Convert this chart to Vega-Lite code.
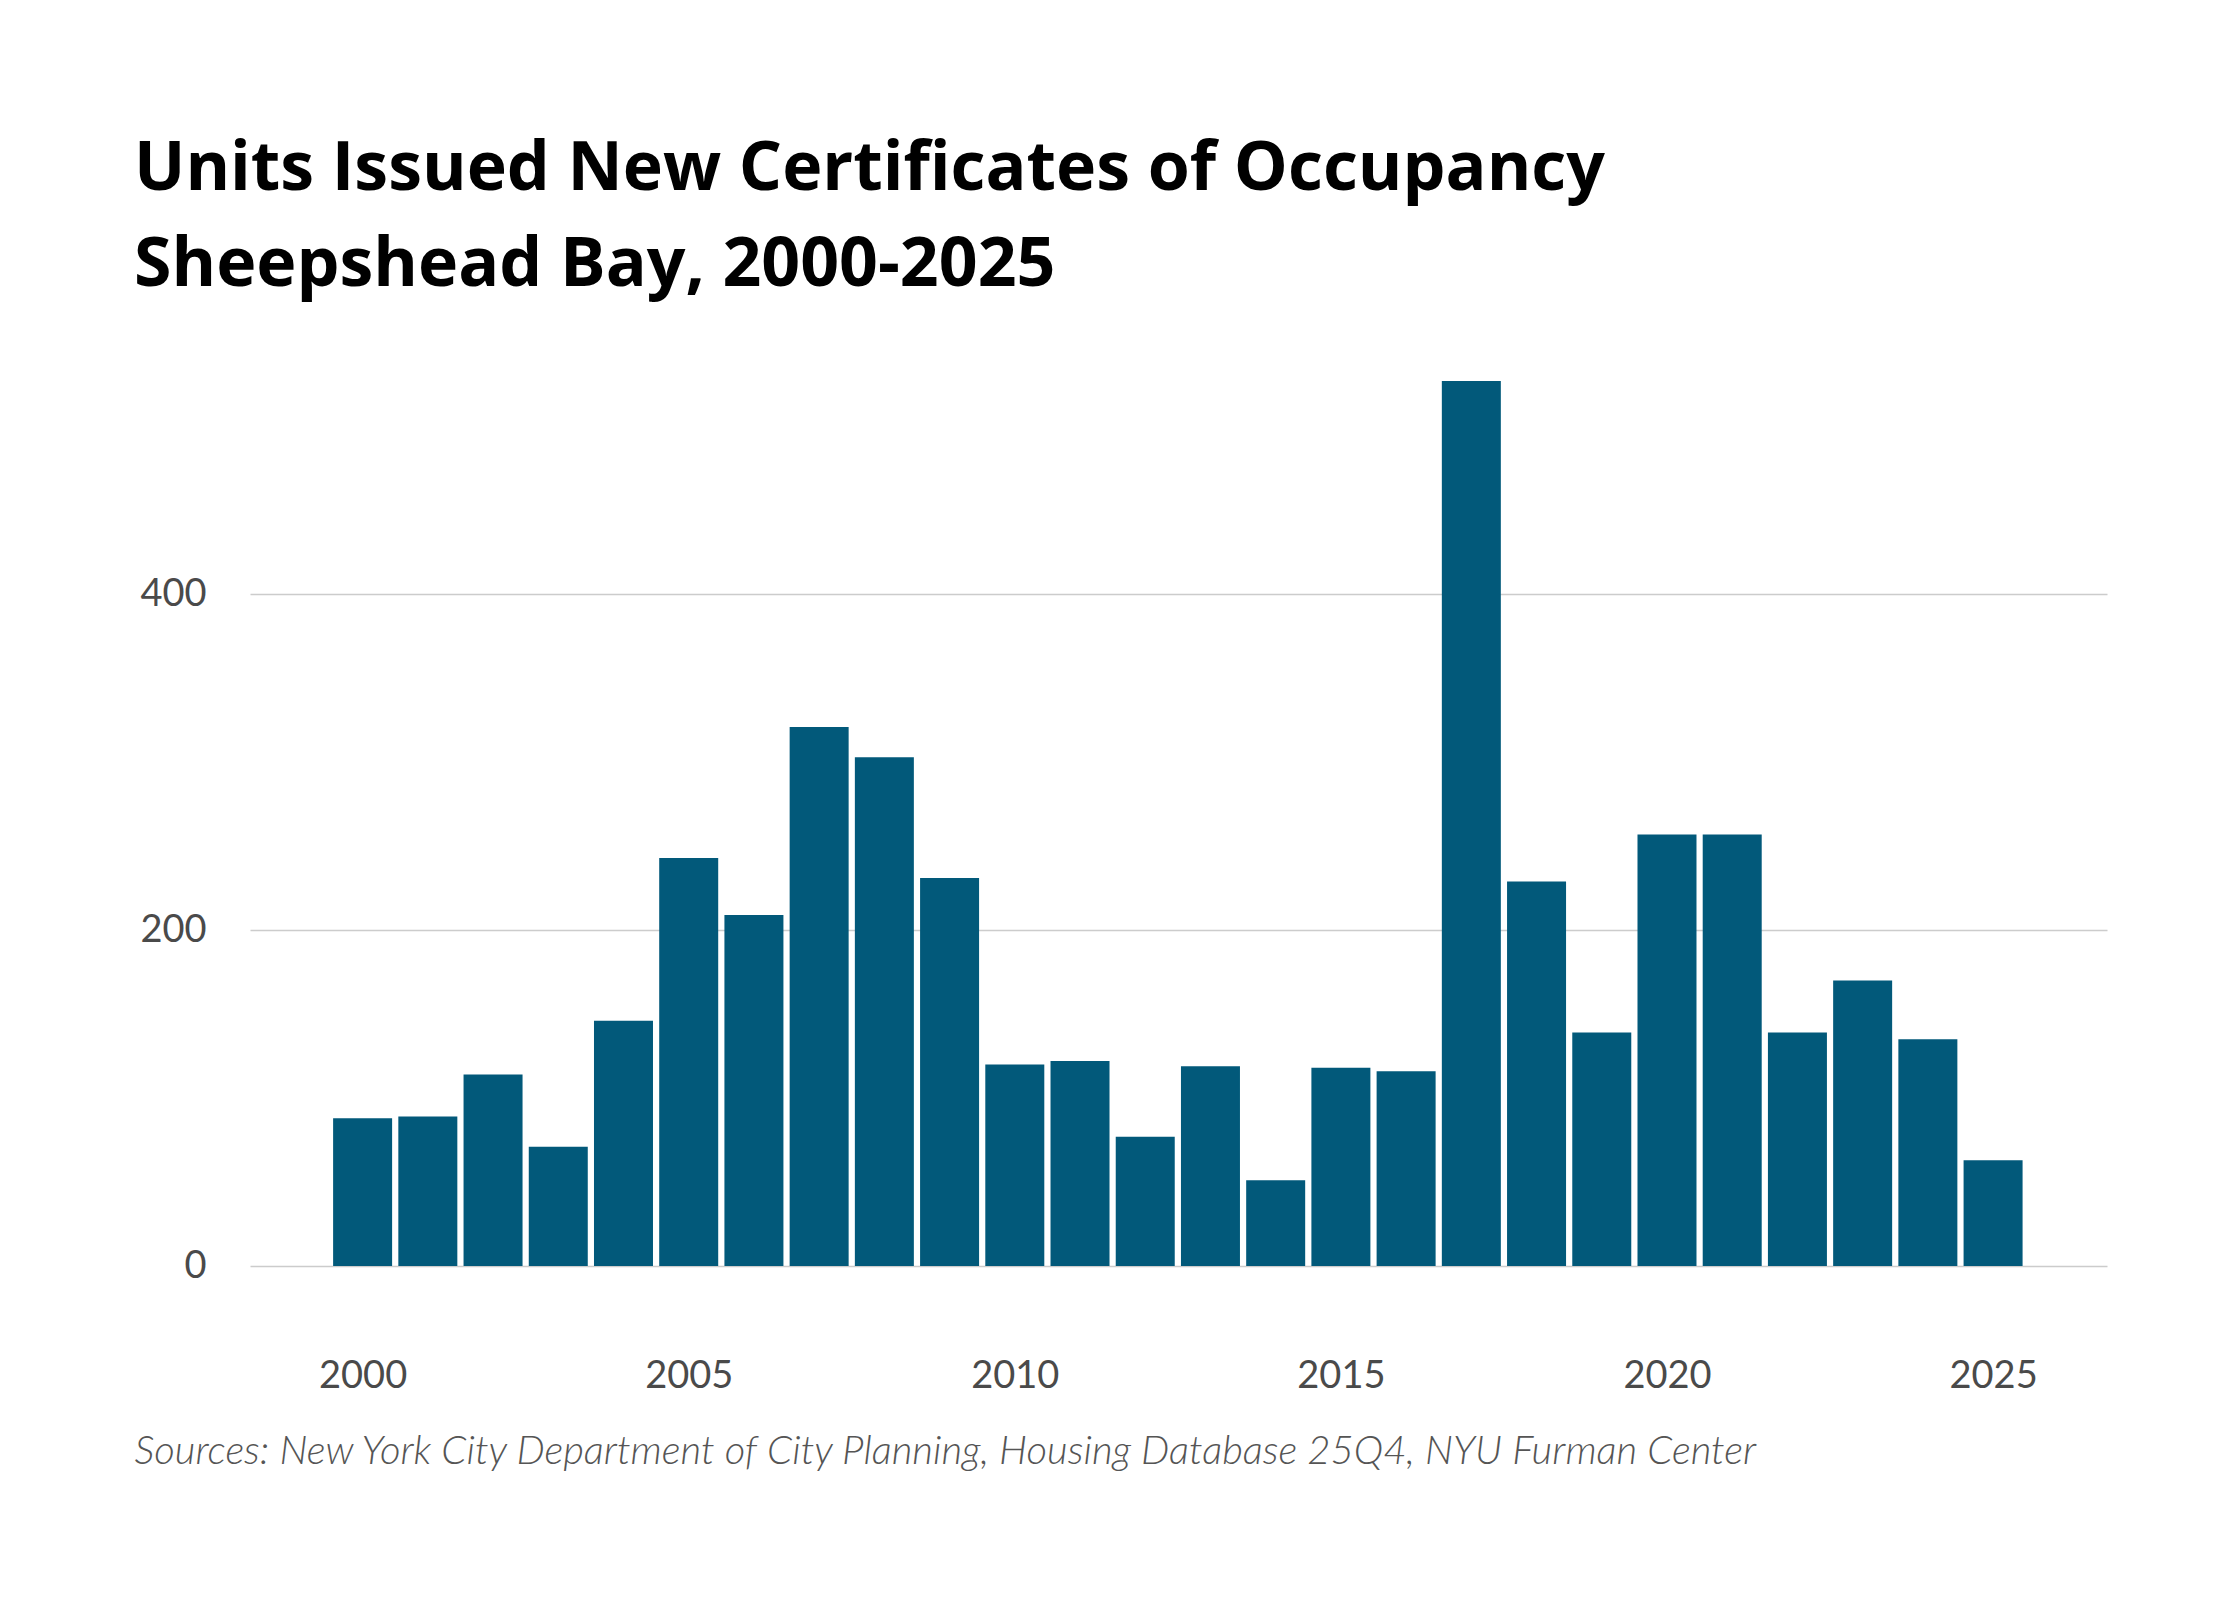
{
  "$schema": "https://vega.github.io/schema/vega-lite/v6.json",
  "width": 1857,
  "height": 885,
  "autosize": {"type": "none"},
  "padding": {"left": 250, "top": 381, "right": 133, "bottom": 334},
  "background": "white",
  "title": {
    "text": ["Units Issued New Certificates of Occupancy", "Sheepshead Bay, 2000-2025"],
    "anchor": "start",
    "frame": "group",
    "dx": -116,
    "offset": 81,
    "font": "Open Sans",
    "fontWeight": 700,
    "fontSize": 68,
    "lineHeight": 96,
    "color": "#000000"
  },
  "data": {
    "values": [
      {"year": 2000, "units": 88},
      {"year": 2001, "units": 89},
      {"year": 2002, "units": 114},
      {"year": 2003, "units": 71},
      {"year": 2004, "units": 146},
      {"year": 2005, "units": 243},
      {"year": 2006, "units": 209},
      {"year": 2007, "units": 321},
      {"year": 2008, "units": 303},
      {"year": 2009, "units": 231},
      {"year": 2010, "units": 120},
      {"year": 2011, "units": 122},
      {"year": 2012, "units": 77},
      {"year": 2013, "units": 119},
      {"year": 2014, "units": 51},
      {"year": 2015, "units": 118},
      {"year": 2016, "units": 116},
      {"year": 2017, "units": 527},
      {"year": 2018, "units": 229},
      {"year": 2019, "units": 139},
      {"year": 2020, "units": 257},
      {"year": 2021, "units": 257},
      {"year": 2022, "units": 139},
      {"year": 2023, "units": 170},
      {"year": 2024, "units": 135},
      {"year": 2025, "units": 63}
    ]
  },
  "mark": {"type": "bar", "color": "#02597a", "width": 59},
  "encoding": {
    "x": {
      "field": "year",
      "type": "quantitative",
      "scale": {"domain": [1998.35, 2026.67], "nice": false, "zero": false},
      "axis": {
        "title": "Sources: New York City Department of City Planning, Housing Database 25Q4, NYU Furman Center",
        "titleFont": "Lato",
        "titleFontStyle": "italic",
        "titleFontWeight": 300,
        "titleFontSize": 40,
        "titleColor": "#555555",
        "titleAnchor": "start",
        "titleAlign": "left",
        "titleBaseline": "alphabetic",
        "titleX": -116,
        "titleY": 197,
        "values": [2000, 2005, 2010, 2015, 2020, 2025],
        "format": "d",
        "labelAngle": 0,
        "labelFont": "Lato",
        "labelFontSize": 38,
        "labelColor": "#4a4a4a",
        "labelPadding": 91,
        "labelFlush": false,
        "ticks": false,
        "domain": false,
        "grid": false
      }
    },
    "y": {
      "field": "units",
      "type": "quantitative",
      "scale": {"nice": false, "domain": [0, 527]},
      "axis": {
        "title": null,
        "values": [0, 200, 400],
        "labelFont": "Lato",
        "labelFontSize": 38,
        "labelColor": "#4a4a4a",
        "labelPadding": 44,
        "ticks": false,
        "domain": false,
        "grid": true,
        "gridColor": "#cccccc",
        "gridWidth": 1.5
      }
    }
  },
  "config": {"view": {"stroke": null}}
}
